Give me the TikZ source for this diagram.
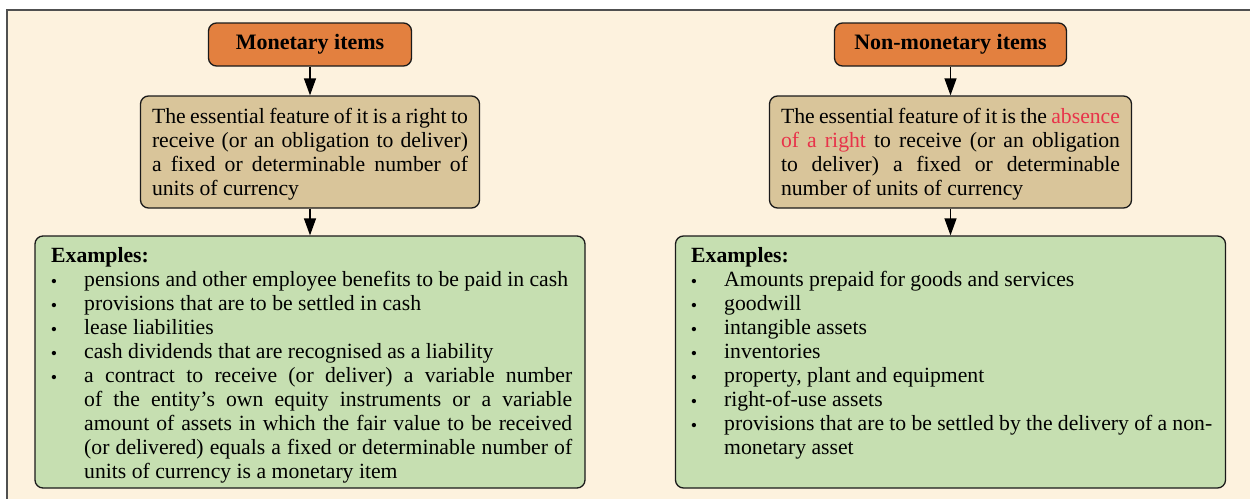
\documentclass[tikz,border=0pt]{standalone}
\usepackage{fontspec}
\setmainfont{Liberation Serif}
\usetikzlibrary{arrows.meta}
\definecolor{cream}{HTML}{FDF2DE}
\definecolor{orangebox}{HTML}{E3803F}
\definecolor{tanbox}{HTML}{D9C59A}
\definecolor{greenbox}{HTML}{C6DFB1}
\definecolor{redtext}{HTML}{E8334A}
\definecolor{framegray}{HTML}{505050}
\definecolor{edge}{HTML}{1A1A1A}
\newcommand\bigfs{\fontsize{21.7}{24}\selectfont}
\newcommand\bul{\llap{\raisebox{-1.5pt}{\fontsize{18}{18}\selectfont\textbullet}\hspace{27pt}}}
\newcommand\jl[1]{\makebox[488pt][s]{#1}}
\newcommand\jw[2]{\makebox[#1][s]{#2}}
\newcommand\lowered[1]{\raisebox{-2pt}[\height][\depth]{#1}}
\tikzset{
  boxbase/.style={draw=edge, line width=1.3pt, rounded corners=8pt},
  titlebox/.style={boxbase, fill=orangebox, font=\fontsize{22}{24}\selectfont\bfseries, inner sep=0pt},
  featbox/.style={boxbase, fill=tanbox, font=\bigfs, inner xsep=11.5pt, inner ysep=0pt},
  exbox/.style={boxbase, fill=greenbox, inner sep=0pt},
  txt/.style={inner sep=0pt, font=\bigfs},
  conn/.style={black, line width=1.3pt, -{Triangle[length=17pt,width=12pt]}}
}
\begin{document}
\begin{tikzpicture}[x=1pt,y=-1pt]
\clip (0,0) rectangle (1250,498);
\fill[white] (0,0) rectangle (1250,498);
\draw[framegray, line width=1.5pt, fill=cream] (7,10) rectangle (1280,530);

% left column
\node[titlebox, minimum width=203pt, minimum height=43pt] (tL) at (310,44.5) {Monetary items};
\node[featbox, minimum width=339pt, minimum height=112pt] (fL) at (310,152) {\lowered{\parbox[t]{316pt}{\bigfs
\jw{316pt}{The essential feature of it is a right to}\\
\jw{316pt}{receive (or an obligation to deliver)}\\
\jw{316pt}{a fixed or determinable number of}\\
units of currency}}};
\node[exbox, minimum width=550pt, minimum height=252pt] (eL) at (310,362) {};
\node[txt, anchor=base west] (eLt) at (84,262) {\parbox[t]{488pt}{\bigfs
\hspace*{-33pt}\textbf{Examples:}\\
\bul pensions and other employee benefits to be paid in cash\\
\bul provisions that are to be settled in cash\\
\bul lease liabilities\\
\bul cash dividends that are recognised as a liability\\
\bul\jl{a contract to receive (or deliver) a variable number}\\
\jl{of the entity's own equity instruments or a variable}\\
\jl{amount of assets in which the fair value to be received}\\
\jl{(or delivered) equals a fixed or determinable number of}\\
units of currency is a monetary item}};

% right column
\node[titlebox, minimum width=232pt, minimum height=43pt] (tR) at (950.5,44.5) {Non-monetary items};
\node[featbox, minimum width=362pt, minimum height=112pt] (fR) at (950.5,152) {\lowered{\parbox[t]{339pt}{\bigfs
\jw{339pt}{The essential feature of it is the \textcolor{redtext}{absence}}\\
\jw{339pt}{\textcolor{redtext}{of a right} to receive (or an obligation}\\
\jw{339pt}{to deliver) a fixed or determinable}\\
number of units of currency}}};
\node[exbox, minimum width=550pt, minimum height=252pt] (eR) at (950.5,362) {};
\node[txt, anchor=base west] (eRt) at (724,262) {\parbox[t]{488pt}{\bigfs
\hspace*{-33pt}\textbf{Examples:}\\
\bul Amounts prepaid for goods and services\\
\bul goodwill\\
\bul intangible assets\\
\bul inventories\\
\bul property, plant and equipment\\
\bul right-of-use assets\\
\bul provisions that are to be settled by the delivery of a non-\\
monetary asset}};

% connectors
\draw[conn] (tL.south) -- (fL.north);
\draw[conn] (fL.south) -- (eL.north);
\draw[conn] (tR.south) -- (fR.north);
\draw[conn] (fR.south) -- (eR.north);
\end{tikzpicture}
\end{document}
